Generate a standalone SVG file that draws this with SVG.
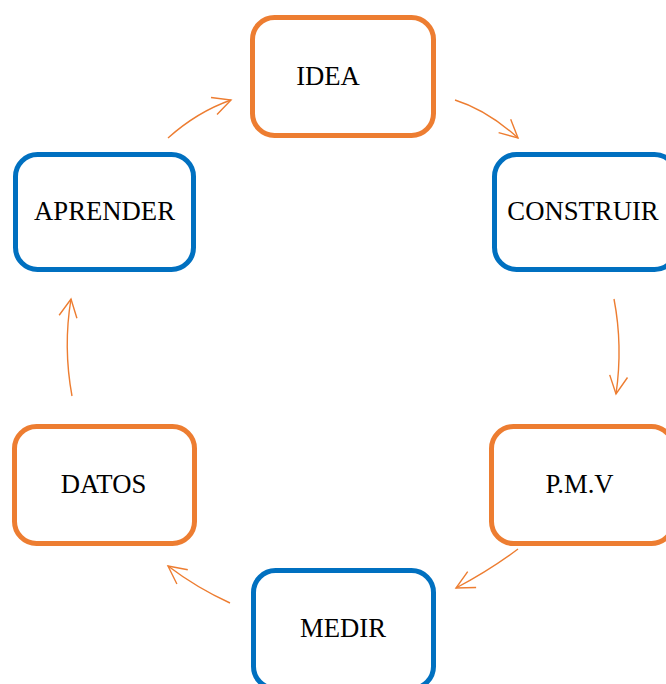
<svg xmlns="http://www.w3.org/2000/svg" width="666" height="684" viewBox="0 0 666 684">
<style>
.box{fill:#ffffff;stroke-width:5}
.orange{stroke:#ED7D31}
.blue{stroke:#0070C0}
.lbl{font-family:"Liberation Serif","Times New Roman",serif;font-size:26.7px;fill:#000000;text-anchor:middle}
.conn{fill:none;stroke:#ED7D31;stroke-width:1.4;marker-end:url(#ah)}
</style>
<defs>
<marker id="ah" markerUnits="userSpaceOnUse" markerWidth="24" markerHeight="24" viewBox="-20 -12 24 24" refX="0" refY="0" orient="auto">
<path d="M-18,-9 L0,0 L-18,9" fill="none" stroke="#ED7D31" stroke-width="1.4"/>
</marker>
</defs>
<rect width="666" height="684" fill="#ffffff"/>
<g id="connectors">
<path class="conn" d="M455,100 Q487,110 518,138"/>
<path class="conn" d="M614,299 Q623,346 616,394"/>
<path class="conn" d="M518,549 Q490,570 456,588"/>
<path class="conn" d="M230,603 Q197,588 168,566"/>
<path class="conn" d="M72,396 Q63,347 71,299"/>
<path class="conn" d="M168,138 Q197,112 231,100"/>
</g>
<g id="idea">
<rect class="box orange" x="252.5" y="17.5" width="181" height="118" rx="22"/>
<text class="lbl" x="328" y="85">IDEA</text>
</g>
<g id="construir">
<rect class="box blue" x="494.5" y="154.5" width="182" height="115" rx="22"/>
<text class="lbl" x="583" y="220">CONSTRUIR</text>
</g>
<g id="pmv">
<rect class="box orange" x="491.5" y="426.5" width="182" height="117" rx="22"/>
<text class="lbl" x="579.5" y="493">P.M.V</text>
</g>
<g id="medir">
<rect class="box blue" x="253.5" y="570.5" width="180" height="118" rx="22"/>
<text class="lbl" x="343" y="637">MEDIR</text>
</g>
<g id="datos">
<rect class="box orange" x="14.5" y="426.5" width="180" height="117" rx="22"/>
<text class="lbl" x="103.5" y="493">DATOS</text>
</g>
<g id="aprender">
<rect class="box blue" x="15.5" y="154.5" width="178" height="115" rx="22"/>
<text class="lbl" x="104.5" y="220">APRENDER</text>
</g>
</svg>
